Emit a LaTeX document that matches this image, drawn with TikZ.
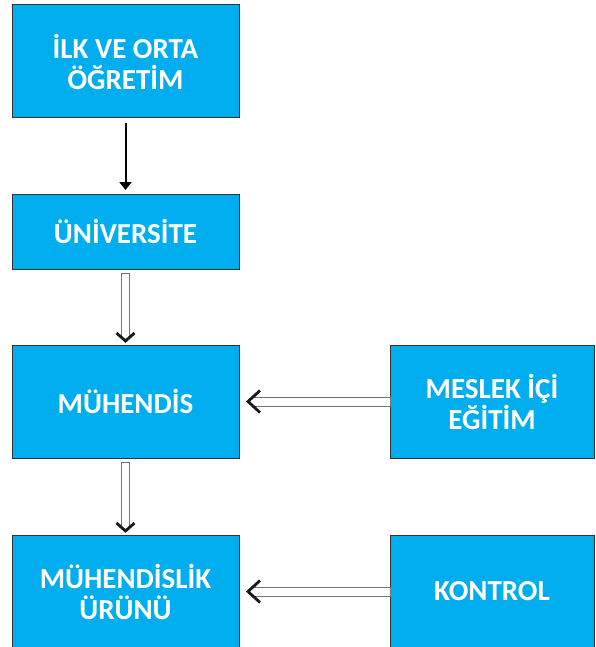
\documentclass[tikz,border=0pt]{standalone}
\usepackage{fontspec}
\setmainfont{Carlito}
\usepackage{tikz}
\usetikzlibrary{positioning,calc,arrows.meta}
\definecolor{boxblue}{HTML}{00AEEF}

\begin{document}
\begin{tikzpicture}[
    x=1pt, y=1pt,
    node distance=76pt,
    box/.style={draw=black!80, line width=1pt, fill=boxblue, outer sep=0pt,
        minimum width=227pt, minimum height=113pt, align=center, text=white,
        font=\fontsize{29}{31}\selectfont\bfseries},
    sidebox/.style={box, minimum width=204pt},
    arrow/.style={-{Triangle[length=8pt,width=12pt]}, line width=2pt},
    shaft/.style={draw=black!55, line width=1pt},
    head/.style={draw=black!90, line width=2.8pt, line join=miter},
]
    \useasboundingbox (0,0) rectangle (596,-647);
    % left column
    \node[box] (ilk) at (125.5,-61.5) {İLK VE ORTA\\ÖĞRETİM};
    \node[box, minimum height=75pt, below=of ilk] (uni) {ÜNİVERSİTE};
    \node[box, below=of uni] (muh) {MÜHENDİS};
    \node[box, below=77pt of muh] (urun) {MÜHENDİSLİK\\ÜRÜNÜ};
    % right column
    \node[sidebox, right=151pt of muh] (meslek) {MESLEK İÇİ\\EĞİTİM};
    \node[sidebox, right=151pt of urun] (kontrol) {KONTROL};
    % Arrows
    \draw[arrow, shorten <=5pt, shorten >=4pt] (ilk) -- (uni);
    \foreach \a/\b in {uni/muh, muh/urun} {
        \draw[shaft] ($(\b.north)+(-4,7.6)$) -- ($(\a.south)+(-4,-4)$)
            -- ($(\a.south)+(4,-4)$) -- ($(\b.north)+(4,7.6)$);
        \draw[head] ($(\b.north)+(-9,12)$) -- ($(\b.north)+(0,4)$) -- ($(\b.north)+(9,12)$);
    }
    \foreach \a/\b in {meslek/muh, kontrol/urun} {
        \draw[shaft] ($(\b.east)+(13.9,4.5)$) -- ($(\a.west)+(0,4.5)$)
            -- ($(\a.west)+(0,-4.5)$) -- ($(\b.east)+(13.9,-4.5)$);
        \draw[head] ($(\b.east)+(21,11)$) -- ($(\b.east)+(9,0)$) -- ($(\b.east)+(21,-11)$);
    }
\end{tikzpicture}
\end{document}
